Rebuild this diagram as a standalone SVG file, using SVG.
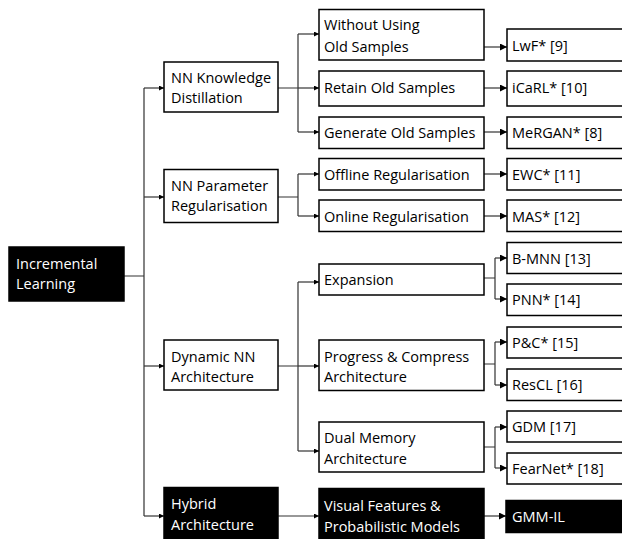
<svg xmlns="http://www.w3.org/2000/svg" width="622" height="539" viewBox="0 0 622 539">
  <style>
    .box { fill: #ffffff; stroke: #000000; stroke-width: 1.5; }
    .dark { fill: #000000; stroke: #000000; stroke-width: 1.5; }
    .lbl { font-family: "Open Sans", "Liberation Sans", sans-serif; font-size: 14.5px; fill: #000000; }
    .lbl-w { font-family: "Open Sans", "Liberation Sans", sans-serif; font-size: 14.5px; fill: #ffffff; }
    .wire { fill: none; stroke: #333333; stroke-width: 1.2; }
    .wire-a { fill: none; stroke: #333333; stroke-width: 1.2; marker-end: url(#tip-s); }
    .wire-b { fill: none; stroke: #333333; stroke-width: 1.2; marker-end: url(#tip-l); }
  </style>
  <defs>
    <marker id="tip-s" viewBox="0 0 10 10" refX="10" refY="5" markerWidth="5" markerHeight="5" markerUnits="userSpaceOnUse" orient="auto">
      <path d="M0,0 L10,5 L0,10 Z" fill="#000000"/>
    </marker>
    <marker id="tip-l" viewBox="0 0 10 10" refX="10" refY="5" markerWidth="7" markerHeight="7" markerUnits="userSpaceOnUse" orient="auto">
      <path d="M0,0 L10,5 L0,10 Z" fill="#000000"/>
    </marker>
  </defs>

  <rect width="622" height="539" fill="#ffffff"/>

  <!-- connectors -->
  <g id="connectors">
    <!-- root trunk -->
    <path class="wire" d="M124,276 H144 M144,88 V516"/>
    <path class="wire-a" d="M144,88 H164"/>
    <path class="wire-a" d="M144,197 H164"/>
    <path class="wire-a" d="M144,366 H164"/>
    <path class="wire-a" d="M144,516 H164"/>

    <!-- knowledge distillation branch -->
    <path class="wire" d="M278,88 H298 M298,34 V132"/>
    <path class="wire-a" d="M298,34 H319"/>
    <path class="wire-a" d="M298,88 H319"/>
    <path class="wire-a" d="M298,132 H319"/>

    <!-- parameter regularisation branch -->
    <path class="wire" d="M278,197 H298 M298,174 V216"/>
    <path class="wire-a" d="M298,174 H319"/>
    <path class="wire-a" d="M298,216 H319"/>

    <!-- dynamic architecture branch -->
    <path class="wire" d="M278,366 H298 M298,282 V451"/>
    <path class="wire-a" d="M298,282 H319"/>
    <path class="wire-a" d="M298,366 H319"/>
    <path class="wire-a" d="M298,451 H319"/>

    <!-- hybrid branch -->
    <path class="wire-a" d="M278,516 H319"/>

    <!-- method leaves -->
    <path class="wire-b" d="M484,47 H507"/>
    <path class="wire-b" d="M484,88 H507"/>
    <path class="wire-b" d="M484,132 H507"/>
    <path class="wire-b" d="M484,174 H507"/>
    <path class="wire-b" d="M484,216 H507"/>

    <path class="wire" d="M484,278 H495 M495,258 V299"/>
    <path class="wire-b" d="M495,258 H507"/>
    <path class="wire-b" d="M495,299 H507"/>

    <path class="wire" d="M484,364 H495 M495,342 V385"/>
    <path class="wire-b" d="M495,342 H507"/>
    <path class="wire-b" d="M495,385 H507"/>

    <path class="wire" d="M484,447 H495 M495,427 V468"/>
    <path class="wire-b" d="M495,427 H507"/>
    <path class="wire-b" d="M495,468 H507"/>

    <path class="wire-b" d="M484,516 H506"/>
  </g>

  <!-- root -->
  <g id="incremental-learning">
    <rect class="dark" x="9" y="247" width="115" height="54"/>
    <text class="lbl-w" x="16" y="269">Incremental</text>
    <text class="lbl-w" x="16" y="289">Learning</text>
  </g>

  <!-- categories -->
  <g id="nn-knowledge-distillation">
    <rect class="box" x="164" y="62" width="114" height="50"/>
    <text class="lbl" x="171" y="83">NN Knowledge</text>
    <text class="lbl" x="171" y="103">Distillation</text>
  </g>
  <g id="nn-parameter-regularisation">
    <rect class="box" x="164" y="169.5" width="114" height="53"/>
    <text class="lbl" x="171" y="191">NN Parameter</text>
    <text class="lbl" x="171" y="211">Regularisation</text>
  </g>
  <g id="dynamic-nn-architecture">
    <rect class="box" x="164" y="340" width="114" height="50"/>
    <text class="lbl" x="171" y="361.5">Dynamic NN</text>
    <text class="lbl" x="171" y="381.5">Architecture</text>
  </g>
  <g id="hybrid-architecture">
    <rect class="dark" x="164" y="487.5" width="114" height="55"/>
    <text class="lbl-w" x="171" y="509">Hybrid</text>
    <text class="lbl-w" x="171" y="530">Architecture</text>
  </g>

  <!-- approaches -->
  <g id="without-using-old-samples">
    <rect class="box" x="319" y="9.5" width="165" height="50.5"/>
    <text class="lbl" x="324" y="30">Without Using</text>
    <text class="lbl" x="324" y="51.5">Old Samples</text>
  </g>
  <g id="retain-old-samples">
    <rect class="box" x="319" y="71" width="165" height="35"/>
    <text class="lbl" x="324" y="93">Retain Old Samples</text>
  </g>
  <g id="generate-old-samples">
    <rect class="box" x="319" y="117" width="165" height="31.5"/>
    <text class="lbl" x="324" y="137.5">Generate Old Samples</text>
  </g>
  <g id="offline-regularisation">
    <rect class="box" x="319" y="158.5" width="165" height="31.5"/>
    <text class="lbl" x="324" y="179.5">Offline Regularisation</text>
  </g>
  <g id="online-regularisation">
    <rect class="box" x="319" y="200" width="165" height="31.5"/>
    <text class="lbl" x="324" y="221.5">Online Regularisation</text>
  </g>
  <g id="expansion">
    <rect class="box" x="319" y="264" width="165" height="31"/>
    <text class="lbl" x="324" y="285">Expansion</text>
  </g>
  <g id="progress-compress">
    <rect class="box" x="319" y="340" width="165" height="50.5"/>
    <text class="lbl" x="324" y="361.5">Progress &amp; Compress</text>
    <text class="lbl" x="324" y="381.5">Architecture</text>
  </g>
  <g id="dual-memory">
    <rect class="box" x="319" y="422" width="165" height="50"/>
    <text class="lbl" x="324" y="443">Dual Memory</text>
    <text class="lbl" x="324" y="463.5">Architecture</text>
  </g>
  <g id="visual-features">
    <rect class="dark" x="319" y="488.5" width="165" height="54"/>
    <text class="lbl-w" x="324" y="510.5">Visual Features &amp;</text>
    <text class="lbl-w" x="324" y="531.5">Probabilistic Models</text>
  </g>

  <!-- methods -->
  <g id="lwf">
    <rect class="box" x="507" y="29" width="120" height="32"/>
    <text class="lbl" x="512" y="51">LwF* [9]</text>
  </g>
  <g id="icarl">
    <rect class="box" x="507" y="71" width="120" height="35"/>
    <text class="lbl" x="512" y="93">iCaRL* [10]</text>
  </g>
  <g id="mergan">
    <rect class="box" x="507" y="117" width="120" height="31.5"/>
    <text class="lbl" x="512" y="137.5">MeRGAN* [8]</text>
  </g>
  <g id="ewc">
    <rect class="box" x="507" y="158.5" width="120" height="31.5"/>
    <text class="lbl" x="512" y="179.5">EWC* [11]</text>
  </g>
  <g id="mas">
    <rect class="box" x="507" y="200" width="120" height="31.5"/>
    <text class="lbl" x="512" y="221.5">MAS* [12]</text>
  </g>
  <g id="b-mnn">
    <rect class="box" x="507" y="242.5" width="120" height="31"/>
    <text class="lbl" x="512" y="263.5">B-MNN [13]</text>
  </g>
  <g id="pnn">
    <rect class="box" x="507" y="284" width="120" height="31.5"/>
    <text class="lbl" x="512" y="305">PNN* [14]</text>
  </g>
  <g id="pc">
    <rect class="box" x="507" y="327" width="120" height="31"/>
    <text class="lbl" x="512" y="348">P&amp;C* [15]</text>
  </g>
  <g id="rescl">
    <rect class="box" x="507" y="369" width="120" height="31.5"/>
    <text class="lbl" x="512" y="390">ResCL [16]</text>
  </g>
  <g id="gdm">
    <rect class="box" x="507" y="411" width="120" height="31"/>
    <text class="lbl" x="512" y="432">GDM [17]</text>
  </g>
  <g id="fearnet">
    <rect class="box" x="507" y="453" width="120" height="31"/>
    <text class="lbl" x="512" y="474">FearNet* [18]</text>
  </g>
  <g id="gmm-il">
    <rect class="dark" x="506" y="500.5" width="121" height="32"/>
    <text class="lbl-w" x="512" y="521.5">GMM-IL</text>
  </g>
</svg>
